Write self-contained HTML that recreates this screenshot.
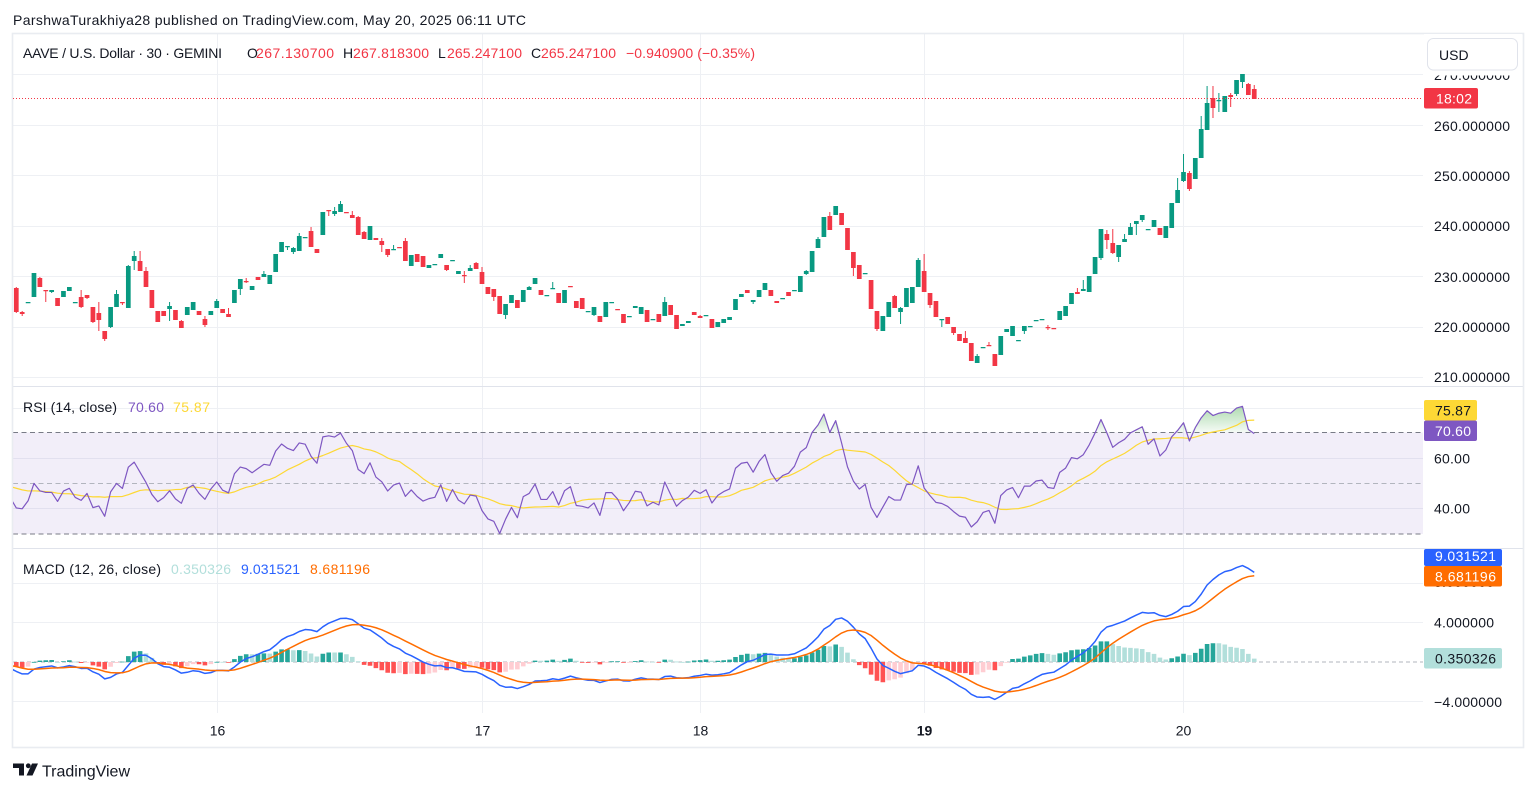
<!DOCTYPE html>
<html><head><meta charset="utf-8">
<style>
html,body{margin:0;padding:0;background:#fff;width:1536px;height:792px;overflow:hidden}
svg{display:block}
text{font-family:"Liberation Sans",Arial,sans-serif;font-size:14px;fill:#131722}
</style></head><body>
<svg id="s" xmlns="http://www.w3.org/2000/svg" width="1536" height="792" viewBox="0 0 1536 792">
<defs>
<clipPath id="cpP"><rect x="13" y="34" width="1410" height="352"/></clipPath>
<clipPath id="cpR"><rect x="13" y="387" width="1410" height="161"/></clipPath>
<clipPath id="cpM"><rect x="13" y="549" width="1410" height="164"/></clipPath>
<linearGradient id="gG" x1="0" y1="0" x2="0" y2="1"><stop offset="0" stop-color="#4caf50" stop-opacity="0.45"/><stop offset="1" stop-color="#4caf50" stop-opacity="0.05"/></linearGradient>
<linearGradient id="gR" x1="0" y1="1" x2="0" y2="0"><stop offset="0" stop-color="#f23645" stop-opacity="0.45"/><stop offset="1" stop-color="#f23645" stop-opacity="0.05"/></linearGradient>
</defs>
<rect width="1536" height="792" fill="#fff"/>

<!-- header -->
<text x="13" y="25" textLength="513" lengthAdjust="spacing">ParshwaTurakhiya28 published on TradingView.com, May 20, 2025 06:11 UTC</text>

<!-- grid -->
<g stroke="#eef0f4" stroke-width="1" fill="none">
<path d="M13 74.5H1423M13 125.5H1423M13 175.5H1423M13 226.5H1423M13 276.5H1423M13 327.5H1423M13 377.5H1423"/>
<path d="M13 408.5H1423M13 458.5H1423M13 508.5H1423"/>
<path d="M13 583.5H1423M13 622.5H1423M13 701.5H1423"/>
<path d="M217.5 34V713M482.5 34V713M700.5 34V713M924.5 34V713M1183.5 34V713"/>
</g>

<!-- RSI band -->
<rect x="13" y="432.5" width="1410" height="101.5" fill="rgba(126,87,194,0.1)"/>
<g fill="none" stroke-width="1">
<path d="M13 432.5H1423" stroke="#787b86" stroke-dasharray="5,3.5"/>
<path d="M13 483.5H1423" stroke="#b2b5be" stroke-dasharray="5,3.5"/>
<path d="M13 534H1423" stroke="#787b86" stroke-dasharray="5,3.5"/>
<path d="M13 662H1423" stroke="#b2b5be" stroke-dasharray="4,3"/>
</g>

<!-- pane separators & frame -->
<path d="M13 386.5H1523M13 548.5H1523" stroke="#e0e3eb" stroke-width="1"/>
<rect x="12.5" y="33.5" width="1511" height="714" fill="none" stroke="#e9ecf1" stroke-width="1.6"/>

<g id="cnd" clip-path="url(#cpP)"></g>
<g id="rsi" clip-path="url(#cpR)"></g>
<g id="macd" clip-path="url(#cpM)"></g>

<!-- current price line -->
<path d="M13 98.5H1423" stroke="#f23645" stroke-width="1" stroke-dasharray="1,2"/>

<!-- legend -->
<text x="23" y="58" textLength="199" lengthAdjust="spacing">AAVE / U.S. Dollar · 30 · GEMINI</text>
<text x="247" y="58">O</text><text x="256" y="58" style="fill:#f23645" textLength="78" lengthAdjust="spacing">267.130700</text>
<text x="343" y="58">H</text><text x="353" y="58" style="fill:#f23645" textLength="76" lengthAdjust="spacing">267.818300</text>
<text x="438" y="58">L</text><text x="447" y="58" style="fill:#f23645" textLength="75" lengthAdjust="spacing">265.247100</text>
<text x="531" y="58">C</text><text x="541" y="58" style="fill:#f23645" textLength="75" lengthAdjust="spacing">265.247100</text>
<text x="626" y="58" style="fill:#f23645" textLength="129" lengthAdjust="spacing">−0.940900 (−0.35%)</text>

<text x="23" y="412" textLength="94" lengthAdjust="spacing">RSI (14, close)</text>
<text x="128" y="412" style="fill:#7e57c2" textLength="36" lengthAdjust="spacing">70.60</text>
<text x="173" y="412" style="fill:#fdd835" textLength="37" lengthAdjust="spacing">75.87</text>

<text x="23" y="574" textLength="138" lengthAdjust="spacing">MACD (12, 26, close)</text>
<text x="171" y="574" style="fill:#b2dfdb" textLength="60" lengthAdjust="spacing">0.350326</text>
<text x="241" y="574" style="fill:#2962ff" textLength="59" lengthAdjust="spacing">9.031521</text>
<text x="310" y="574" style="fill:#ff6d00" textLength="60" lengthAdjust="spacing">8.681196</text>

<!-- price axis -->
<g>
<text x="1434" y="80" textLength="76" lengthAdjust="spacing">270.000000</text>
<rect x="1424" y="34" width="98" height="41.5" fill="#fff"/>
<rect x="1427.5" y="38.5" width="90" height="31.5" rx="6" fill="#fff" stroke="#e0e3eb"/>
<text x="1439" y="60">USD</text>
<text x="1434" y="131" textLength="76" lengthAdjust="spacing">260.000000</text>
<text x="1434" y="181" textLength="76" lengthAdjust="spacing">250.000000</text>
<text x="1434" y="231" textLength="76" lengthAdjust="spacing">240.000000</text>
<text x="1434" y="282" textLength="76" lengthAdjust="spacing">230.000000</text>
<text x="1434" y="332" textLength="76" lengthAdjust="spacing">220.000000</text>
<text x="1434" y="382" textLength="76" lengthAdjust="spacing">210.000000</text>
<rect x="1424" y="88" width="54" height="20.5" rx="2" fill="#f23645"/>
<text x="1436" y="103.5" style="fill:#fff" textLength="36" lengthAdjust="spacing">18:02</text>

<text x="1434" y="463.5" textLength="36" lengthAdjust="spacing">60.00</text>
<text x="1434" y="513.5" textLength="36" lengthAdjust="spacing">40.00</text>
<rect x="1424" y="400" width="53" height="20.5" rx="2" fill="#fdd835"/>
<text x="1435" y="415.5" textLength="36" lengthAdjust="spacing">75.87</text>
<rect x="1424" y="420.5" width="53" height="20.5" rx="2" fill="#7e57c2"/>
<text x="1435" y="436" style="fill:#fff" textLength="36" lengthAdjust="spacing">70.60</text>

<text x="1434" y="587" textLength="60" lengthAdjust="spacing">8.000000</text>
<rect x="1424" y="549" width="78" height="17" rx="2" fill="#2962ff"/>
<text x="1435" y="561" style="fill:#fff" textLength="61" lengthAdjust="spacing">9.031521</text>
<rect x="1424" y="566" width="78" height="20.5" rx="2" fill="#ff6d00"/>
<text x="1435" y="581.5" style="fill:#fff" textLength="61" lengthAdjust="spacing">8.681196</text>
<text x="1434" y="627.5" textLength="60" lengthAdjust="spacing">4.000000</text>
<rect x="1424" y="648" width="78" height="20.5" rx="2" fill="#b2dfdb"/>
<text x="1435" y="663.5" textLength="61" lengthAdjust="spacing">0.350326</text>
<text x="1434" y="707" textLength="68" lengthAdjust="spacing">−4.000000</text>
</g>

<!-- time axis -->
<g text-anchor="middle">
<text x="217.5" y="735.5">16</text>
<text x="482.5" y="735.5">17</text>
<text x="700.5" y="735.5">18</text>
<text x="924.5" y="735.5" font-weight="bold">19</text>
<text x="1183.5" y="735.5">20</text>
</g>

<!-- TradingView logo -->
<g fill="#131722">
<path d="M13 763.5h11v12h-5v-7.5h-6z"/>
<circle cx="28.3" cy="765.8" r="2.4"/>
<path d="M32 763.5h6l-5.5 12h-6z"/>
</g>
<text x="42" y="776.5" style="font-size:16px" textLength="88" lengthAdjust="spacing">TradingView</text>
</svg>
<script>
(function(){
const D=[[288,312,0,287,313],[312,314,0,311,316],[302,302,1],[273,297,1],[278,287,0,277,287],[290,290,0,290,302],[290,292,1,290,293],[298,306,0],[291,297,1],[287,291,1],
[302,302,1],[297,307,0,290,308],[295,298,0,295,299],[307,322,0,307,323],[313,320,0,302,331],[331,339,0,331,341],[307,327,1,307,328],[294,307,1,290,307],[302,302,0,302,305],[266,308,1,265,308],
[256,261,1,251,270],[261,271,0,251,271],[271,287,0,267,287],[290,308,0],[311,322,0],[311,316,0],[306,309,1,302,321],[310,320,0],[321,328,0,320,328],[307,315,1],
[302,310,1],[311,315,0],[319,325,0,316,327],[311,315,1],[301,308,1,299,308],[309,313,0],[314,317,0,308,317],[290,303,1],[279,289,1,279,295],[281,281,0,278,283],
[286,290,1],[277,280,0],[274,277,1,271,277],[275,284,1],[254,272,1],[242,252,1],[246,246,1,246,250],[248,252,1,247,254],[236,251,1,233,251],[237,237,1],
[231,247,0,227,247],[249,253,0],[212,235,1],[210,210,0,210,216],[211,214,1,207,216],[204,212,1,201,212],[212,212,0],[215,218,0,211,218],[217,235,0,216,235],[232,239,0,231,239],
[226,240,1],[238,240,0],[241,245,0,238,252],[249,255,0,249,257],[249,249,1,245,249],[247,247,0],[241,261,0,238,261],[255,266,1],[254,262,0],[256,267,0],
[265,268,1],[264,264,1],[254,258,1],[265,270,0,265,271],[260,260,1],[271,274,1],[275,275,0,271,283],[268,271,1,265,271],[263,269,0,262,269],[272,284,0,267,284],
[287,294,0],[289,297,0,289,301],[296,314,0],[304,315,1,304,319],[295,303,1],[300,308,0],[290,302,1],[287,290,1,286,290],[278,284,1],[290,295,0],
[295,295,1],[288,288,1,282,288],[293,303,0],[290,303,1],[286,286,0],[301,308,0],[298,309,0],[311,311,1],[307,315,1,307,316],[316,322,0],
[302,317,1],[302,302,1],[309,309,0],[314,323,0],[316,316,1],[306,308,1],[307,314,1],[310,322,0],[319,319,1],[314,322,0],
[302,316,1,297,316],[305,315,0],[315,329,0],[324,326,1],[321,323,1],[312,315,0],[316,318,0,315,318],[315,315,1],[319,328,0],[322,327,1],
[319,323,1],[317,320,1],[299,310,1],[294,297,1],[290,293,0],[300,302,1,300,304],[290,297,1],[283,290,1],[290,296,0],[301,303,0],
[298,298,1],[292,296,0],[290,290,1],[276,292,1],[271,274,1,270,275],[251,272,1],[239,248,1,237,248],[217,237,1],[216,230,0,212,230],[206,215,1],
[213,225,0],[228,250,0],[252,268,0,252,276],[265,279,0],[273,273,1],[280,309,0],[311,329,0,311,331],[316,331,1],[302,317,1],[296,308,0,295,308],
[308,312,1,307,324],[288,307,1],[287,303,1],[260,287,1,258,287],[271,292,0,254,292],[293,305,0,293,308],[301,317,0],[319,319,1,319,327],[317,324,0],[327,333,0,327,335],
[334,341,0],[338,343,0,331,343],[343,361,0],[356,363,1,354,363],[347,347,1],[345,345,0,342,346],[354,366,0],[336,355,1],[329,332,1],[326,336,1],
[340,340,1],[326,331,1,326,334],[326,326,1],[320,320,1],[319,319,1],[327,327,0,325,330],[328,328,0],[311,320,1],[306,316,1],[293,304,1],
[292,294,0,288,294],[289,291,1,280,291],[276,292,1],[257,274,1],[229,258,1,229,260],[234,240,0,230,249],[243,253,0,229,254],[245,257,1,245,262],[239,242,1,234,242],[227,235,1,223,235],
[221,224,1,221,235],[215,220,1,215,222],[229,229,1],[220,227,1],[228,235,0],[226,238,1],[203,228,1],[190,203,1,178,203],[172,181,1,154,182],[173,189,0,171,191],
[158,179,1],[129,158,1,116,158],[103,130,1,86,130],[98,108,0,86,118],[100,100,1,93,112],[96,112,1],[95,97,0,93,107],[80,94,1,80,96],[74,82,1,74,88],[84,95,0,83,95],
[89,99,0,85,99]];
const NS='http://www.w3.org/2000/svg';
function el(tag,attrs,parent){const e=document.createElementNS(NS,tag);for(const k in attrs)e.setAttribute(k,attrs[k]);parent.appendChild(e);return e;}
const X=i=>16.3+5.895*i;
let gw='',gb='',rw='',rb='';
D.forEach((d,i)=>{
  const cx=X(i),t=d[0],b=d[1];
  const wt=d.length>3?d[3]:t, wb=d.length>3?d[4]:b;
  const h=Math.max(1.3,b-t);
  const body='M'+(cx-2.35).toFixed(2)+' '+t+'h4.7v'+h+'h-4.7z';
  const wick=(wb-wt>h)?('M'+(cx-0.5).toFixed(2)+' '+wt+'h1v'+(wb-wt)+'h-1z'):'';
  if(d[2]){gb+=body;gw+=wick;}else{rb+=body;rw+=wick;}
});
const gc=document.getElementById('cnd');
el('path',{d:gw,fill:'#089981'},gc);el('path',{d:rw,fill:'#f23645'},gc);
el('path',{d:gb,fill:'#089981'},gc);el('path',{d:rb,fill:'#f23645'},gc);

const P=y=>260-(y-125.3)/5.04;
const C=[P(290)].concat(D.map(d=>P(d[2]?d[0]:d[1])));
const XI=k=>X(k-1);
let ag=1.5,al=1.9;const R=[100-100/(1+ag/al)];
for(let k=1;k<C.length;k++){const ch=C[k]-C[k-1];ag=(ag*13+Math.max(ch,0))/14;al=(al*13+Math.max(-ch,0))/14;R.push(100-100/(1+ag/al));}
const all=Array(13).fill(49).concat(R);
const MA=R.map((_,k)=>{let s=0;for(let j=k;j<k+14;j++)s+=all[j];return s/14;});
const yR=r=>483.3-(r-50)*2.5;
const gr=document.getElementById('rsi');
let pts=[],ptsMA=[],up=[],dn=[];
R.forEach((r,k)=>{const x=XI(k).toFixed(2),y=yR(r);pts.push(x+','+y.toFixed(2));ptsMA.push(x+','+yR(MA[k]).toFixed(2));up.push(x+','+Math.min(y,432.5).toFixed(2));dn.push(x+','+Math.max(y,534).toFixed(2));});
const x0=XI(0).toFixed(2),x1=XI(R.length-1).toFixed(2);
el('polygon',{points:x0+',432.5 '+up.join(' ')+' '+x1+',432.5',fill:'url(#gG)'},gr);
el('polygon',{points:x0+',534 '+dn.join(' ')+' '+x1+',534',fill:'url(#gR)'},gr);
el('polyline',{points:ptsMA.join(' '),fill:'none',stroke:'#fdd835','stroke-width':'1.2','stroke-linejoin':'round'},gr);
el('polyline',{points:pts.join(' '),fill:'none',stroke:'#7e57c2','stroke-width':'1.2','stroke-linejoin':'round'},gr);
let e12=C[0]-0.05,e26=C[0]+0.6,sg=-0.35;const M=[],S=[],H=[];
for(let k=0;k<C.length;k++){if(k>0){e12+=(C[k]-e12)*2/13;e26+=(C[k]-e26)*2/27;}const m=e12-e26;if(k>0)sg+=(m-sg)*0.2;M.push(m);S.push(sg);H.push(m-sg);}
const yM=v=>662-v*9.92;
const gm=document.getElementById('macd');
const cols={'#26a69a':'','#b2dfdb':'','#ffcdd2':'','#ff5252':''};
H.forEach((h,k)=>{const hp=k>0?H[k-1]:h;const c=h>=0?(hp<h?'#26a69a':'#b2dfdb'):(hp<h?'#ffcdd2':'#ff5252');
  const y=yM(h);const top=Math.min(662,y),ht=Math.max(0.8,Math.abs(y-662));
  cols[c]+='M'+(XI(k)-2.3).toFixed(2)+' '+top.toFixed(2)+'h4.6v'+ht.toFixed(2)+'h-4.6z';});
for(const c in cols)if(cols[c])el('path',{d:cols[c],fill:c},gm);
el('polyline',{points:M.map((v,k)=>XI(k).toFixed(2)+','+yM(v).toFixed(2)).join(' '),fill:'none',stroke:'#2962ff','stroke-width':'1.5','stroke-linejoin':'round'},gm);
el('polyline',{points:S.map((v,k)=>XI(k).toFixed(2)+','+yM(v).toFixed(2)).join(' '),fill:'none',stroke:'#ff6d00','stroke-width':'1.5','stroke-linejoin':'round'},gm);
})();
</script>
</body></html>
